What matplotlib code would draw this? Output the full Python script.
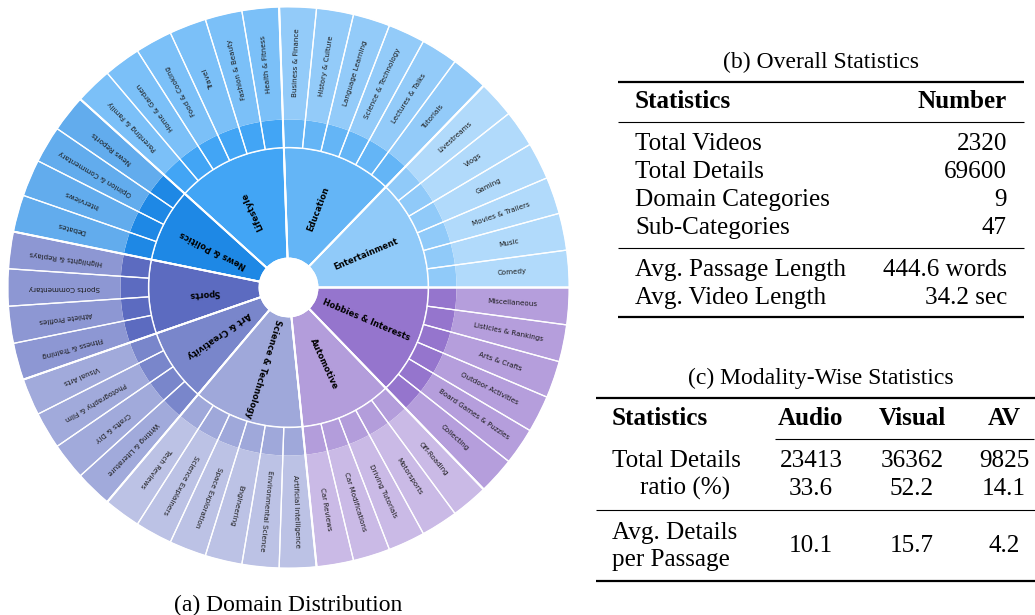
import matplotlib
matplotlib.use("Agg")
import matplotlib.pyplot as plt
import numpy as np
from matplotlib.colors import to_rgb

W, H = 1035, 615

# domains, counter-clockwise from 3 o'clock
domains = ["Entertainment", "Education", "Lifestyle", "News & Politics", "Sports",
           "Art & Creativity", "Science & Technology", "Automotive", "Hobbies & Interests"]
domain_colors = ["#90CAF9", "#64B5F6", "#42A5F5", "#1E88E5", "#5C6BC0",
                 "#7986CB", "#9FA8DA", "#B39DDB", "#9575CD"]
sub_names = [
    ["Comedy", "Music", "Movies & Trailers", "Gaming", "Vlogs", "Livestreams"],
    ["Tutorials", "Lectures & Talks", "Science & Technology", "Language Learning",
     "History & Culture", "Business & Finance"],
    ["Health & Fitness", "Fashion & Beauty", "Travel", "Food & Cooking",
     "Home & Garden", "Parenting & Family"],
    ["News Reports", "Opinion & Commentary", "Interviews", "Debates"],
    ["Highlights & Replays", "Sports Commentary", "Athlete Profiles", "Fitness & Training"],
    ["Visual Arts", "Photography & Film", "Crafts & DIY", "Writing & Literature"],
    ["Tech Reviews", "Science Explainers", "Space Exploration", "Engineering",
     "Environmental Science", "Artificial Intelligence"],
    ["Car Reviews", "Car Modifications", "Driving Tutorials", "Motorsports", "Off-Roading"],
    ["Collecting", "Board Games & Puzzles", "Outdoor Activities", "Arts & Crafts",
     "Listicles & Rankings", "Miscellaneous"],
]
sub_sizes = [[1] * len(s) for s in sub_names]

# table data
overall_rows = [("Total Videos", "2320"), ("Total Details", "69600"),
                ("Domain Categories", "9"), ("Sub-Categories", "47")]
overall_rows2 = [("Avg. Passage Length", "444.6 words"), ("Avg. Video Length", "34.2 sec")]
modality_cols = ["Audio", "Visual", "AV"]
modality_total = ["23413", "36362", "9825"]
modality_ratio = ["33.6", "52.2", "14.1"]
modality_avg = ["10.1", "15.7", "4.2"]


def lighten(c, a=0.7):
    r = np.array(to_rgb(c))
    return tuple(a * r + (1 - a))


def Y(y):
    return H - y


fig = plt.figure(figsize=(W / 100, H / 100), dpi=100)
ax = fig.add_axes([0, 0, 1, 1])

cx, cy = 288.5, Y(287.5)
r_hole, r_dom, r_band, r_out = 29, 140, 168, 281

dom_sizes = [sum(s) for s in sub_sizes]
flat_sizes = [v for s in sub_sizes for v in s]
flat_names = [n for s in sub_names for n in s]
band_cols = [domain_colors[i] for i, s in enumerate(sub_sizes) for _ in s]
out_cols = [lighten(domain_colors[i]) for i, s in enumerate(sub_sizes) for _ in s]

dw, _ = ax.pie(dom_sizes, radius=r_dom, center=(cx, cy), startangle=0, colors=domain_colors,
               frame=True, wedgeprops=dict(width=r_dom - r_hole, edgecolor="white", linewidth=1.2))
ax.pie(flat_sizes, radius=r_band, center=(cx, cy), startangle=0, colors=band_cols,
       frame=True, wedgeprops=dict(width=r_band - r_dom, linewidth=0))
sw, _ = ax.pie(flat_sizes, radius=r_out, center=(cx, cy), startangle=0, colors=out_cols,
               frame=True, wedgeprops=dict(width=r_out - r_band, linewidth=0))
ax.pie(flat_sizes, radius=r_out, center=(cx, cy), startangle=0, frame=True,
       wedgeprops=dict(width=r_out - r_dom, fill=False, edgecolor="white", linewidth=0.9))
ax.pie(dom_sizes, radius=r_out, center=(cx, cy), startangle=0, frame=True,
       wedgeprops=dict(width=r_out - r_hole, fill=False, edgecolor="white", linewidth=1.4))

for w, name in zip(dw, domains):
    a = (w.theta1 + w.theta2) / 2
    rr = (r_hole + r_dom) / 2
    ax.text(cx + rr * np.cos(np.radians(a)), cy + rr * np.sin(np.radians(a)), name,
            rotation=a % 360, rotation_mode="anchor", ha="center", va="center",
            fontsize=6.0, fontweight="bold", color="black")

for w, name in zip(sw, flat_names):
    a = (w.theta1 + w.theta2) / 2
    rr = (r_band + r_out) / 2
    ax.text(cx + rr * np.cos(np.radians(a)), cy + rr * np.sin(np.radians(a)), name,
            rotation=a % 360, rotation_mode="anchor", ha="center", va="center",
            fontsize=5.1, color="#1a1a1a")

serif = "Liberation Serif"
fs = 18.1
ax.text(cx, Y(605), "(a) Domain Distribution", family=serif, fontsize=17,
        ha="center", va="center")

# (b) overall statistics
x0, x1 = 618, 1024
xm = (x0 + x1) / 2
ax.text(xm, Y(62), "(b) Overall Statistics", family=serif, fontsize=17, ha="center", va="center")
ax.plot([x0, x1], [Y(81.5)] * 2, color="black", lw=1.6, solid_capstyle="butt")
ax.text(635, Y(108), "Statistics", family=serif, fontsize=fs, fontweight="bold", ha="left", va="baseline")
ax.text(1007, Y(108), "Number", family=serif, fontsize=fs, fontweight="bold", ha="right", va="baseline")
ax.plot([x0, x1], [Y(122)] * 2, color="black", lw=0.8, solid_capstyle="butt")
for i, (k, v) in enumerate(overall_rows):
    yb = 150 + 28 * i
    ax.text(635, Y(yb), k, family=serif, fontsize=fs, ha="left", va="baseline")
    ax.text(1007, Y(yb), v, family=serif, fontsize=fs, ha="right", va="baseline")
ax.plot([x0, x1], [Y(248)] * 2, color="black", lw=0.8, solid_capstyle="butt")
for i, (k, v) in enumerate(overall_rows2):
    yb = 276 + 28 * i
    ax.text(635, Y(yb), k, family=serif, fontsize=fs, ha="left", va="baseline")
    ax.text(1007, Y(yb), v, family=serif, fontsize=fs, ha="right", va="baseline")
ax.plot([x0, x1], [Y(317)] * 2, color="black", lw=1.6, solid_capstyle="butt")

# (c) modality-wise statistics
c0, c1 = 596, 1046
col_x = [811, 912, 1004]
ax.text(821, Y(378), "(c) Modality-Wise Statistics", family=serif, fontsize=17, ha="center", va="center")
ax.plot([c0, c1], [Y(398)] * 2, color="black", lw=1.6, solid_capstyle="butt")
ax.text(612, Y(425), "Statistics", family=serif, fontsize=fs, fontweight="bold", ha="left", va="baseline")
for x, c in zip(col_x, modality_cols):
    ax.text(x, Y(425), c, family=serif, fontsize=fs, fontweight="bold", ha="center", va="baseline")
ax.plot([775, 1034], [Y(439)] * 2, color="black", lw=0.8, solid_capstyle="butt")
ax.text(612, Y(467), "Total Details", family=serif, fontsize=fs, ha="left", va="baseline")
ax.text(685, Y(495), "ratio (%)", family=serif, fontsize=fs, ha="center", va="baseline")
for x, a, b in zip(col_x, modality_total, modality_ratio):
    ax.text(x, Y(467), a, family=serif, fontsize=fs, ha="center", va="baseline")
    ax.text(x, Y(495), b, family=serif, fontsize=fs, ha="center", va="baseline")
ax.plot([c0, c1], [Y(510)] * 2, color="black", lw=0.8, solid_capstyle="butt")
ax.text(612, Y(539), "Avg. Details", family=serif, fontsize=fs, ha="left", va="baseline")
ax.text(612, Y(566), "per Passage", family=serif, fontsize=fs, ha="left", va="baseline")
for x, v in zip(col_x, modality_avg):
    ax.text(x, Y(552), v, family=serif, fontsize=fs, ha="center", va="baseline")
ax.plot([c0, c1], [Y(581)] * 2, color="black", lw=1.6, solid_capstyle="butt")

ax.set_xlim(0, W)
ax.set_ylim(0, H)
ax.set_aspect("equal")
ax.axis("off")
fig.savefig("out.png", dpi=100)
